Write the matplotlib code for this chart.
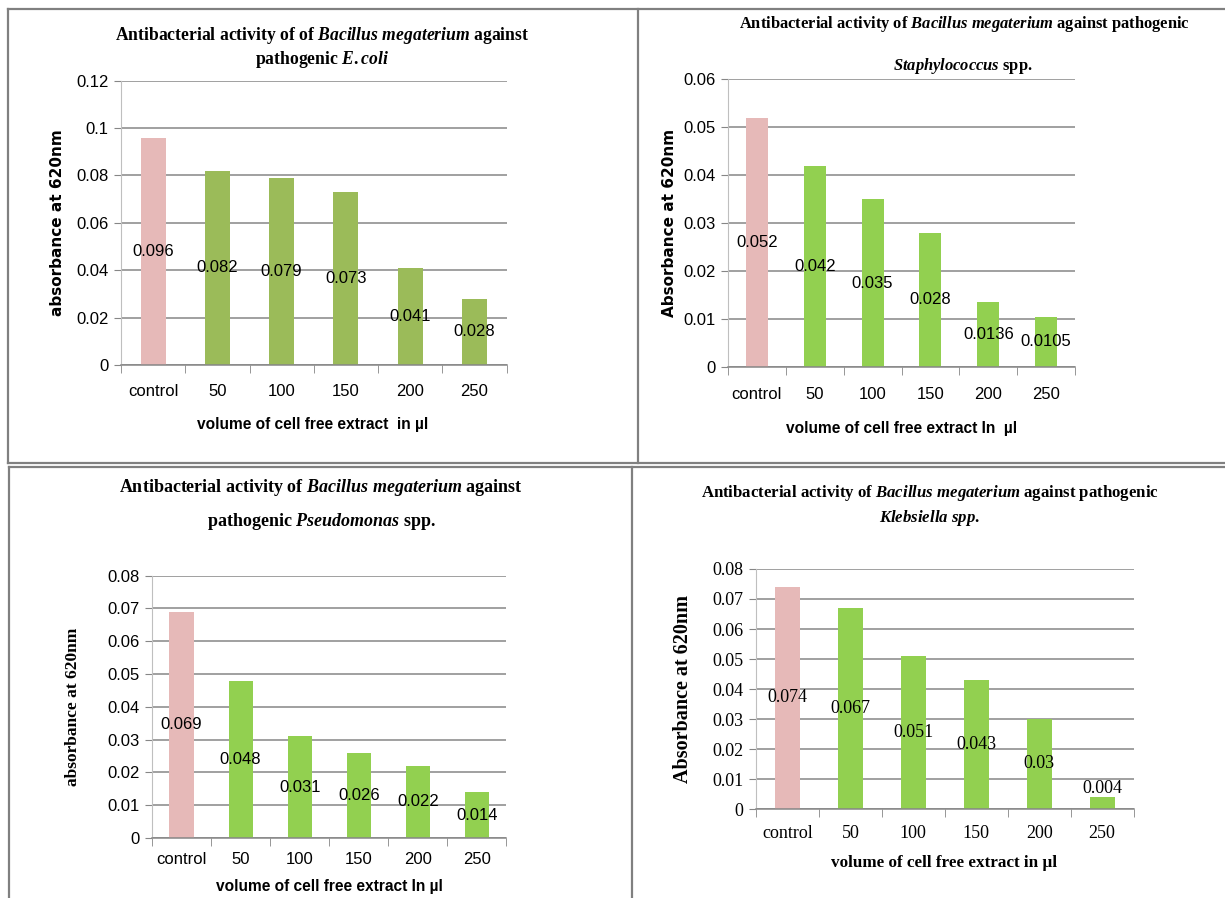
import matplotlib
matplotlib.use("Agg")
import matplotlib.pyplot as plt
from matplotlib.lines import Line2D

plt.rcParams['mathtext.fontset'] = 'custom'
plt.rcParams['mathtext.rm'] = 'Liberation Serif:bold'
plt.rcParams['mathtext.it'] = 'Liberation Serif:italic:bold'

categories = ['control', '50', '100', '150', '200', '250']

ecoli = [0.096, 0.082, 0.079, 0.073, 0.041, 0.028]
ecoli_labels = ['0.096', '0.082', '0.079', '0.073', '0.041', '0.028']

staph = [0.052, 0.042, 0.035, 0.028, 0.0136, 0.0105]
staph_labels = ['0.052', '0.042', '0.035', '0.028', '0.0136', '0.0105']

pseudo = [0.069, 0.048, 0.031, 0.026, 0.022, 0.014]
pseudo_labels = ['0.069', '0.048', '0.031', '0.026', '0.022', '0.014']

klebs = [0.074, 0.067, 0.051, 0.043, 0.030, 0.004]
klebs_labels = ['0.074', '0.067', '0.051', '0.043', '0.03', '0.004']

W, H = 1225, 898
fig = plt.figure(figsize=(W / 100, H / 100), dpi=100)

SANS = ['Liberation Sans', 'DejaVu Sans']
SERIF = ['Liberation Serif', 'DejaVu Serif']
PINK = '#E6B9B8'
GRID = '#868686'


def fx(x):
    return x / W


def fy(y):
    return 1 - y / H


def panel(box, values, vlabels, ymax, step, green, width, tickfont, fsize,
          ylabel, yfont, ysize, ylab_x, xlabel, xfont, xsize, xlab_y, xlab_x,
          tick_y):
    x0, ytop, x1, ybot = box
    ax = fig.add_axes([fx(x0), fy(ybot), (x1 - x0) / W, (ybot - ytop) / H])
    colors = [PINK] + [green] * (len(values) - 1)
    xs = list(range(len(values)))
    ax.set_axisbelow(True)
    ax.bar(xs, values, width=width, color=colors, zorder=2)
    ax.set_xlim(-0.5, len(values) - 0.5)
    ax.set_ylim(0, ymax)
    n = int(round(ymax / step))
    yt = [round(i * step, 4) for i in range(n + 1)]
    ax.set_yticks(yt)
    ax.set_yticklabels([f"{v:g}" for v in yt], family=tickfont, fontsize=fsize)
    ax.yaxis.grid(True, color=GRID, lw=1.1)
    ax.tick_params(axis='y', length=5, color=GRID, pad=4)
    ax.set_xticks(xs)
    ax.set_xticklabels([])
    ax.set_xticks([i - 0.5 for i in range(len(values) + 1)], minor=True)
    ax.tick_params(axis='x', which='major', length=0)
    ax.tick_params(axis='x', which='minor', length=6, color=GRID, direction='out')
    for s in ['top', 'right']:
        ax.spines[s].set_visible(False)
    ax.spines['left'].set_color('#BFBFBF')
    ax.spines['bottom'].set_color(GRID)
    ax.spines['bottom'].set_linewidth(1.1)
    # category labels
    for i, c in enumerate(categories):
        fig.text(fx(x0 + (i + 0.5) * (x1 - x0) / len(values)), fy(tick_y), c,
                 ha='center', va='center', family=tickfont, fontsize=fsize)
    # value labels in the middle of each bar, above it when the bar is too short
    for i, (v, t) in enumerate(zip(values, vlabels)):
        if v < 0.1 * ymax:
            ax.text(i, v, t, ha='center', va='bottom', family=tickfont,
                    fontsize=fsize, zorder=3)
        else:
            ax.text(i, v / 2, t, ha='center', va='center', family=tickfont,
                    fontsize=fsize, zorder=3)
    fig.text(fx(ylab_x), fy((ytop + ybot) / 2), ylabel, rotation=90,
             ha='center', va='center', family=yfont, fontweight='bold',
             fontsize=ysize)
    fig.text(fx(xlab_x), fy(xlab_y), xlabel, ha='center', va='center',
             family=xfont, fontweight='bold', fontsize=xsize)
    return ax


def title(x, y, s, size):
    fig.text(fx(x), fy(y), s, ha='center', va='center', family=SERIF,
             fontweight='bold', fontsize=size)


# panel 1: E. coli
panel((121, 80.7, 506.5, 365), ecoli, ecoli_labels, 0.12, 0.02, '#9BBB59', 0.39,
      SANS, 12, 'absorbance at 620nm', ['DejaVu Sans'], 11, 58,
      'volume of cell free extract  in µl', SANS, 11.2, 425, 313, 392)
title(322, 35, r'Antibacterial activity of of $\mathit{Bacillus\ megaterium}$ against', 12.7)
title(322, 60, r'pathogenic $\mathit{E.coli}$', 12.7)

# panel 2: Staphylococcus
panel((728, 79.3, 1075, 367), staph, staph_labels, 0.06, 0.01, '#92D050', 0.38,
      SANS, 12, 'Absorbance at 620nm', ['DejaVu Sans'], 11, 670,
      'volume of cell free extract In  µl', SANS, 11.2, 428, 902, 395)
title(964, 24, r'Antibacterial activity of $\mathit{Bacillus\ megaterium}$ against pathogenic', 11.9)
title(963, 66, r'$\mathit{Staphylococcus}$ spp.', 11.9)

# panel 3: Pseudomonas
panel((152, 575.5, 506.5, 838), pseudo, pseudo_labels, 0.08, 0.01, '#92D050', 0.41,
      SANS, 12, 'absorbance at 620nm', SERIF, 12.5, 73,
      'volume of cell free extract In µl', SANS, 11.2, 887, 329, 860)
title(321, 488, r'Antibacterial activity of $\mathit{Bacillus\ megaterium}$ against', 13)
title(321, 522, r'pathogenic $\mathit{Pseudomonas}$ spp.', 13)

# panel 4: Klebsiella
panel((756, 569, 1133.6, 809), klebs, klebs_labels, 0.08, 0.01, '#92D050', 0.40,
      SERIF, 13, 'Absorbance at 620nm', SERIF, 14.5, 683,
      'volume of cell free extract in µl', SERIF, 12.3, 863, 944, 833)
title(930, 493, r'Antibacterial activity of $\mathit{Bacillus\ megaterium}$ against pathogenic', 12.1)
title(930, 518, r'$\mathit{Klebsiella\ spp.}$', 12.1)

# frame lines around the panels
frame = [
    ((8, 1225), (9, 9)),
    ((8, 8), (9, 463)),
    ((8, 1225), (463, 463)),
    ((637.5, 637.5), (9, 463)),
    ((9, 1225), (466.5, 466.5)),
    ((9, 9), (466.5, 898)),
    ((632, 632), (466.5, 898)),
]
for (xa, xb), (ya, yb) in frame:
    fig.add_artist(Line2D([fx(xa), fx(xb)], [fy(ya), fy(yb)], color='#808080',
                          lw=1.6, transform=fig.transFigure))

fig.savefig('out.png', dpi=100)
